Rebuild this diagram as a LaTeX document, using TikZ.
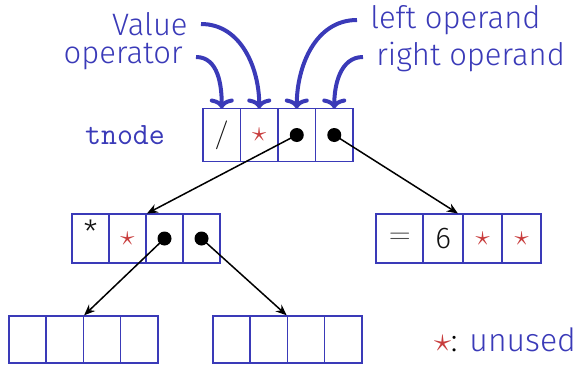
\documentclass[tikz,border=0pt]{standalone}
\usepackage{fontspec}
\setmainfont{Fira Sans Light}
\usetikzlibrary{arrows.meta,fit,positioning}
\definecolor{tnblue}{HTML}{3A3AB8}
\definecolor{tnred}{HTML}{C83C3C}
\definecolor{tnink}{HTML}{111111}
\newcommand{\tnstar}{\textcolor{tnred}{$\star$}}
\tikzset{
  tncell/.style={
    draw=tnblue,
    line width=0.8pt,
    inner sep=0pt,
    outer sep=0pt,
    minimum width=18.75pt,
    minimum height=26.5pt,
    font=\fontsize{14}{16}\selectfont,
    text=tnink
  },
  tndot/.style={
    circle,
    fill=black,
    inner sep=0pt,
    minimum size=7pt
  },
  tnhead/.style={
    font=\fontsize{15.5}{18}\selectfont,
    text=tnblue,
    inner xsep=6.5pt,
    inner ysep=0pt
  },
  tncallout/.style={
    -{Computer Modern Rightarrow[length=5pt,width=12pt]},
    line width=2pt,
    color=tnblue
  },
  tnptr/.style={
    -{Stealth[length=5.5pt,width=4.5pt]},
    line width=0.75pt,
    color=black,
    shorten >=0.5pt
  },
  tnbox/.style={
    inner sep=0pt,
    outer sep=0pt
  }
}

\begin{document}
\begin{tikzpicture}[x=0.5pt,y=-0.5pt]
  \useasboundingbox (0,0) rectangle (588,364);

  % the tnode itself
  \node[font=\fontsize{15.5}{18}\selectfont\ttfamily, text=tnblue] (tname) at (125,135) {tnode};
  \node[tncell] (t1) at (221.75,135) {$/$};
  \node[tncell, right=0pt of t1] (t2) {\tnstar};
  \node[tncell, right=0pt of t2] (t3) {};
  \node[tncell, right=0pt of t3] (t4) {};
  \node[tndot] (t3dot) at (t3) {};
  \node[tndot] (t4dot) at (t4) {};
  \node[tnbox, fit=(t1)(t4)] (top) {};

  % field names
  \node[tnhead, anchor=east] (val) at (201,24) {Value};
  \node[tnhead, anchor=east] (opr) at (196,57) {operator};
  \node[tnhead, anchor=west] (lop) at (357,20) {left operand};
  \node[tnhead, anchor=west] (rop) at (363,57) {right operand};

  \draw[tncallout] (opr) to[out=0,in=90] (t1.north);
  \draw[tncallout] (val) to[out=0,in=90] (t2.north);
  \draw[tncallout] (lop) to[out=180,in=90] (t3.north);
  \draw[tncallout] (rop) to[out=180,in=90] (t4.north);

  % left child: multiplication
  \node[tncell, minimum width=18.5pt, minimum height=24.5pt] (m1) at (90.5,238.5) {\raisebox{0.9ex}{\fontsize{16}{18}\selectfont *}};
  \node[tncell, minimum width=18.5pt, minimum height=24.5pt, right=0pt of m1] (m2) {\raisebox{-0.4ex}{\tnstar}};
  \node[tncell, minimum width=18.5pt, minimum height=24.5pt, right=0pt of m2] (m3) {};
  \node[tncell, minimum width=18.5pt, minimum height=24.5pt, right=0pt of m3] (m4) {};
  \node[tndot] (m3dot) at (m3) {};
  \node[tndot] (m4dot) at (m4) {};
  \node[tnbox, fit=(m1)(m4)] (mul) {};

  % right child: constant
  \node[tncell, minimum width=23.5pt, minimum height=24.5pt] (c1) at (399.75,238.5) {\textcolor{tnink!75}{$=$}};
  \node[tncell, minimum width=20pt, minimum height=24.5pt, right=0pt of c1] (c2) {\fontsize{15}{17}\selectfont 6};
  \node[tncell, minimum width=19.5pt, minimum height=24.5pt, right=0pt of c2] (c3) {\tnstar};
  \node[tncell, minimum width=19.5pt, minimum height=24.5pt, right=0pt of c3] (c4) {\tnstar};
  \node[tnbox, fit=(c1)(c4)] (const) {};

  % grandchildren
  \node[tncell, minimum width=18.6pt, minimum height=23.5pt] (a1) at (27.6,339.5) {};
  \node[tncell, minimum width=18.6pt, minimum height=23.5pt, right=0pt of a1] (a2) {};
  \node[tncell, minimum width=18.6pt, minimum height=23.5pt, right=0pt of a2] (a3) {};
  \node[tncell, minimum width=18.6pt, minimum height=23.5pt, right=0pt of a3] (a4) {};
  \node[tnbox, fit=(a1)(a4)] (leftkid) {};

  \node[tncell, minimum width=18.6pt, minimum height=23.5pt] (b1) at (231.6,339.5) {};
  \node[tncell, minimum width=18.6pt, minimum height=23.5pt, right=0pt of b1] (b2) {};
  \node[tncell, minimum width=18.6pt, minimum height=23.5pt, right=0pt of b2] (b3) {};
  \node[tncell, minimum width=18.6pt, minimum height=23.5pt, right=0pt of b3] (b4) {};
  \node[tnbox, fit=(b1)(b4)] (rightkid) {};

  \draw[tnptr] (t3dot.center) -- (mul.north);
  \draw[tnptr] (t4dot.center) -- (const.north);
  \draw[tnptr] (m3dot.center) -- (leftkid.north);
  \draw[tnptr] (m4dot.center) -- (rightkid.north);

  % legend
  \node[font=\fontsize{16}{18}\selectfont, anchor=east] (legend) at (583,340) {\tnstar: \textcolor{tnblue}{unused}};
\end{tikzpicture}
\end{document}
